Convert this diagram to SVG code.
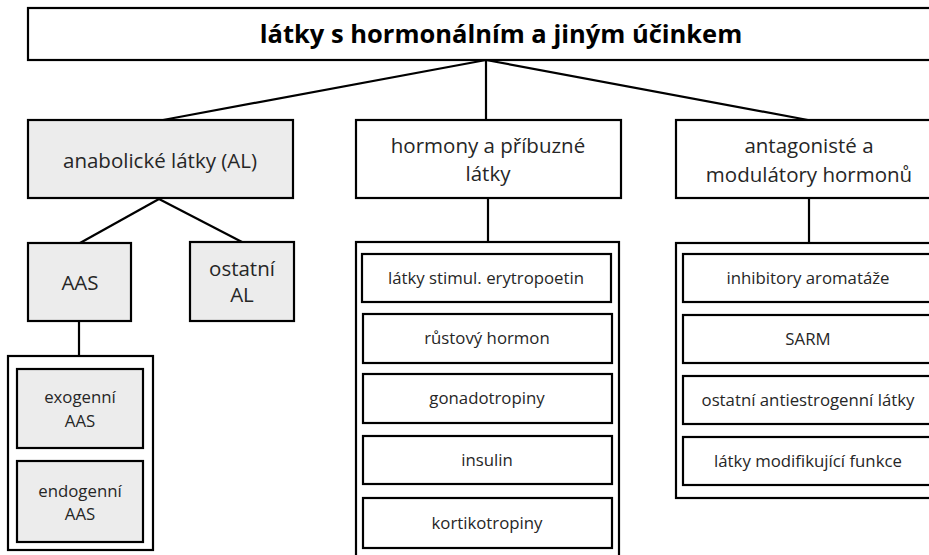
<svg xmlns="http://www.w3.org/2000/svg" width="929" height="555" viewBox="0 0 929 555">
<style>
  .box { fill: #ffffff; stroke: #000000; stroke-width: 2.2; }
  .grey { fill: #ececec; stroke: #000000; stroke-width: 2.2; }
  .t { font-family: "Open Sans", "Liberation Sans", Arial, sans-serif; fill: #262626; text-anchor: middle; }
  .m { font-size: 20.5px; }
  .s { font-size: 16.8px; }
  .title { font-family: "Open Sans", "Liberation Sans", Arial, sans-serif; font-size: 25.5px; font-weight: bold; fill: #000; text-anchor: middle; }
  .c { stroke: #000; stroke-width: 2.2; fill: none; }
</style>
<rect width="929" height="555" fill="#ffffff"/>
<g id="connectors">
  <line class="c" x1="486" y1="60" x2="163" y2="120"/>
  <line class="c" x1="486" y1="60" x2="486" y2="120"/>
  <line class="c" x1="486" y1="60" x2="808" y2="120"/>
  <line class="c" x1="159" y1="199" x2="80" y2="243"/>
  <line class="c" x1="159" y1="199" x2="242" y2="242"/>
  <line class="c" x1="79" y1="321" x2="79" y2="356"/>
  <line class="c" x1="488" y1="198" x2="488" y2="242"/>
  <line class="c" x1="809" y1="198" x2="809" y2="243"/>
</g>
<g id="title">
  <rect class="box" x="28" y="8" width="930" height="52"/>
  <text class="title" x="501" y="43">látky s hormonálním a jiným účinkem</text>
</g>
<g id="anabolicke">
  <rect class="grey" x="28" y="120" width="265" height="78"/>
  <text class="t m" x="160" y="168">anabolické látky (AL)</text>
</g>
<g id="aas">
  <rect class="grey" x="28" y="243" width="103" height="78"/>
  <text class="t m" x="80" y="290">AAS</text>
</g>
<g id="ostatni-al">
  <rect class="grey" x="190" y="242" width="104" height="79"/>
  <text class="t m" x="242" y="276">ostatní</text>
  <text class="t m" x="242" y="302">AL</text>
</g>
<g id="aas-group">
  <rect class="box" x="8" y="356" width="145" height="194"/>
</g>
<g id="exogenni">
  <rect class="grey" x="17" y="369" width="126" height="79"/>
  <text class="t s" x="80" y="403">exogenní</text>
  <text class="t s" x="80" y="427">AAS</text>
</g>
<g id="endogenni">
  <rect class="grey" x="17" y="461" width="126" height="81"/>
  <text class="t s" x="80" y="497">endogenní</text>
  <text class="t s" x="80" y="520">AAS</text>
</g>
<g id="hormony">
  <rect class="box" x="356" y="120" width="265" height="78"/>
  <text class="t m" x="488" y="153">hormony a příbuzné</text>
  <text class="t m" x="488" y="181">látky</text>
</g>
<g id="hormony-group">
  <rect class="box" x="356" y="242" width="263" height="330"/>
</g>
<g id="epo">
  <rect class="box" x="362" y="254" width="249" height="48"/>
  <text class="t s" x="486" y="284">látky stimul. erytropoetin</text>
</g>
<g id="rustovy">
  <rect class="box" x="363" y="314" width="249" height="49"/>
  <text class="t s" x="487" y="344">růstový hormon</text>
</g>
<g id="gonadotropiny">
  <rect class="box" x="363" y="374" width="249" height="49"/>
  <text class="t s" x="487" y="404">gonadotropiny</text>
</g>
<g id="insulin">
  <rect class="box" x="363" y="436" width="249" height="48"/>
  <text class="t s" x="487" y="466">insulin</text>
</g>
<g id="kortikotropiny">
  <rect class="box" x="363" y="498" width="249" height="50"/>
  <text class="t s" x="487" y="529">kortikotropiny</text>
</g>
<g id="antagoniste">
  <rect class="box" x="676" y="120" width="280" height="78"/>
  <text class="t m" x="809" y="153">antagonisté a</text>
  <text class="t m" x="809" y="182">modulátory hormonů</text>
</g>
<g id="antagoniste-group">
  <rect class="box" x="676" y="243" width="280" height="255"/>
</g>
<g id="aromataza">
  <rect class="box" x="683" y="254" width="270" height="48"/>
  <text class="t s" x="808" y="284">inhibitory aromatáže</text>
</g>
<g id="sarm">
  <rect class="box" x="683" y="315" width="270" height="48"/>
  <text class="t s" x="808" y="345">SARM</text>
</g>
<g id="antiestrogenni">
  <rect class="box" x="683" y="376" width="270" height="48"/>
  <text class="t s" x="808" y="406">ostatní antiestrogenní látky</text>
</g>
<g id="modifikujici">
  <rect class="box" x="683" y="437" width="270" height="48"/>
  <text class="t s" x="808" y="467">látky modifikující funkce</text>
</g>
</svg>
